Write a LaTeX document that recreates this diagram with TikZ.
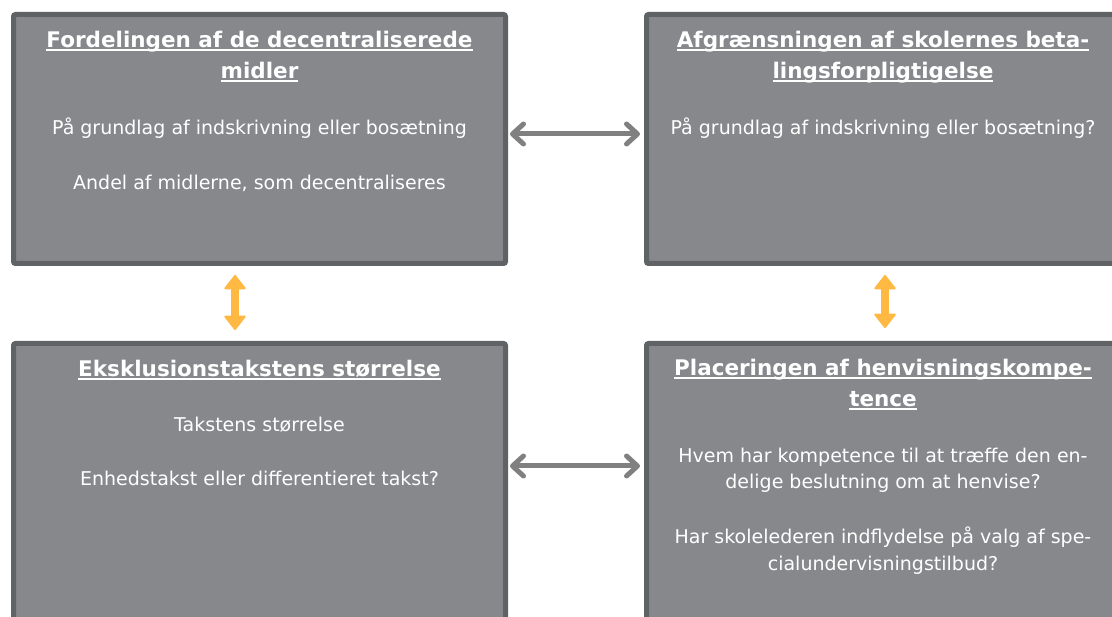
\documentclass[tikz,border=0pt]{standalone}
\usepackage{fontspec}
\setmainfont{DejaVu Sans}
\usepackage{tikz}
\usetikzlibrary{arrows.meta,positioning,calc}
\usepackage{xcolor}

\definecolor{boxfill}{RGB}{134,136,139}
\definecolor{boxline}{RGB}{96,99,102}
\definecolor{linkgray}{RGB}{128,128,128}
\definecolor{linkorange}{RGB}{255,184,66}

\newcommand\boxhead[1]{\setbox0\hbox{\fontsize{21.5}{26.5}\bfseries #1}\rlap{\rule[-3pt]{\wd0}{1.3pt}}\box0}

\tikzset{
  themebox/.style={draw=boxline, fill=boxfill, line width=5pt, rounded corners=2pt,
    minimum width=#1, inner sep=0pt},
  boxtext/.style={anchor=north, align=center, text=white, inner sep=0pt,
    font=\fontsize{19}{26.5}\selectfont},
  sidelink/.style={line width=5pt, draw=linkgray,
    {Straight Barb[length=11pt,width=20pt,round]}-{Straight Barb[length=11pt,width=20pt,round]}},
  uplink/.style={line width=8pt, draw=linkorange,
    {Triangle[length=15pt,width=23pt,line width=2pt,round]}-{Triangle[length=15pt,width=23pt,line width=2pt,round]}}
}

\begin{document}
\begin{tikzpicture}[x=1pt, y=-1pt]
  % four themes with links between them
  \useasboundingbox (0,0) rectangle (1112,617);
  \node[themebox=492pt, minimum height=249pt] (tl) at (259.5,139) {};
  \node[themebox=473pt, minimum height=249pt] (tr) at (883,139) {};
  \node[themebox=492pt, minimum height=296.5pt] (bl) at (259.5,491.75) {};
  \node[themebox=473pt, minimum height=296.5pt] (br) at (883,491.75) {};

  \node[boxtext] (tl-text) at (259.5,31) {%
    \boxhead{Fordelingen af de decentraliserede}\\[4.5pt]
    \boxhead{midler}\\[29pt]
    På grundlag af indskrivning eller bosætning\\[28.5pt]
    Andel af midlerne, som decentraliseres};
  \node[boxtext] (tr-text) at (883,31) {%
    \boxhead{Afgrænsningen af skolernes beta-}\\[4.5pt]
    \boxhead{lingsforpligtigelse}\\[29pt]
    På grundlag af indskrivning eller bosætning?};
  \node[boxtext] (bl-text) at (259.5,360) {%
    \boxhead{Eksklusionstakstens størrelse}\\[28pt]
    Takstens størrelse\\[28pt]
    Enhedstakst eller differentieret takst?};
  \node[boxtext] (br-text) at (883,359) {%
    \boxhead{Placeringen af henvisningskompe-}\\[4.5pt]
    \boxhead{tence}\\[29pt]
    Hvem har kompetence til at træffe den en-\\
    delige beslutning om at henvise?\\[28.5pt]
    Har skolelederen indflydelse på valg af spe-\\
    cialundervisningstilbud?};

  \draw[sidelink] ([xshift=2pt,yshift=5pt]tl.east) -- ([xshift=-4pt,yshift=5pt]tr.west);
  \draw[sidelink] ([xshift=2pt,yshift=25.75pt]bl.east) -- ([xshift=-4pt,yshift=25.75pt]br.west);
  \draw[uplink] ([xshift=-24.5pt,yshift=-9pt]tl.south) -- ([xshift=-24.5pt,yshift=11pt]bl.north);
  \draw[uplink] ([xshift=2pt,yshift=-9pt]tr.south) -- ([xshift=2pt,yshift=13pt]br.north);
\end{tikzpicture}
\end{document}
